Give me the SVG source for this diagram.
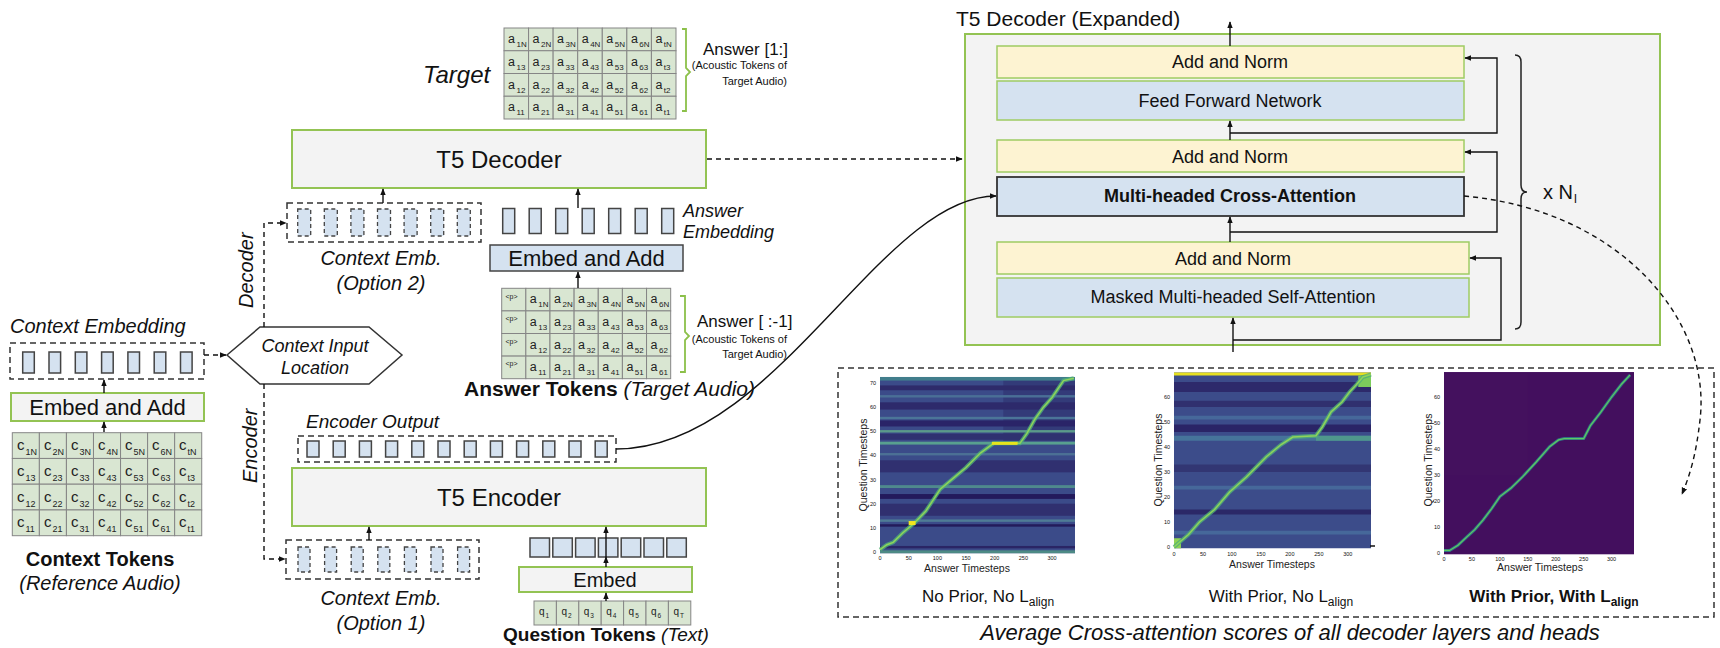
<svg xmlns="http://www.w3.org/2000/svg" width="1720" height="648" viewBox="0 0 1720 648">
<defs>
<marker id="ah" viewBox="0 0 10 10" refX="9" refY="5" markerWidth="7" markerHeight="7" orient="auto" markerUnits="userSpaceOnUse"><path d="M0,1 L10,5 L0,9 z" fill="#111"/></marker>
<style>
text{font-family:"Liberation Sans",Arial,sans-serif;fill:#111}
.it{font-style:italic}
.bd{font-weight:bold}
.gbox{fill:#f3f3f3;stroke:#93c353;stroke-width:2}
.cell{fill:#d9e6d2;stroke:#858585;stroke-width:1}
.dash{fill:none;stroke:#333;stroke-width:1.5;stroke-dasharray:6 4}
.emb{fill:#d5e2f0;stroke:#444;stroke-width:1.5}
.embd{fill:#d5e2f0;stroke:#444;stroke-width:1.3;stroke-dasharray:4 3}
.con{fill:none;stroke:#111;stroke-width:1.4}
.cond{fill:none;stroke:#111;stroke-width:1.4;stroke-dasharray:5 4}
.brk{fill:none;stroke:#8cc04a;stroke-width:1.8}
.yb{fill:#fdf3d2;stroke:#9fcc63;stroke-width:1.5}
.bb{fill:#d5e2f0;stroke:#9fcc63;stroke-width:1.5}
.ct{font-size:12.5px;fill:#222}
.cs{font-size:8px}
.cc{font-size:15px;fill:#222}
.ccs{font-size:9px}
.cp{font-size:7px;fill:#222}
.cq{font-size:10px;fill:#222}
.cqs{font-size:6.5px}
.tk{font-size:5.5px;fill:#444}
.ax{font-size:10.5px;fill:#222}
.dk{font-size:18px}
.sm{font-size:11px}
</style>
</defs>

<!-- Target grid -->
<g id="target">
<text x="423" y="83" class="it" font-size="24">Target</text>
<g>
<rect class="cell" x="504" y="28" width="24.57" height="22.75"/><rect class="cell" x="528.57" y="28" width="24.57" height="22.75"/><rect class="cell" x="553.14" y="28" width="24.57" height="22.75"/><rect class="cell" x="577.71" y="28" width="24.57" height="22.75"/><rect class="cell" x="602.28" y="28" width="24.57" height="22.75"/><rect class="cell" x="626.85" y="28" width="24.57" height="22.75"/><rect class="cell" x="651.42" y="28" width="24.57" height="22.75"/>
<rect class="cell" x="504" y="50.75" width="24.57" height="22.75"/><rect class="cell" x="528.57" y="50.75" width="24.57" height="22.75"/><rect class="cell" x="553.14" y="50.75" width="24.57" height="22.75"/><rect class="cell" x="577.71" y="50.75" width="24.57" height="22.75"/><rect class="cell" x="602.28" y="50.75" width="24.57" height="22.75"/><rect class="cell" x="626.85" y="50.75" width="24.57" height="22.75"/><rect class="cell" x="651.42" y="50.75" width="24.57" height="22.75"/>
<rect class="cell" x="504" y="73.5" width="24.57" height="22.75"/><rect class="cell" x="528.57" y="73.5" width="24.57" height="22.75"/><rect class="cell" x="553.14" y="73.5" width="24.57" height="22.75"/><rect class="cell" x="577.71" y="73.5" width="24.57" height="22.75"/><rect class="cell" x="602.28" y="73.5" width="24.57" height="22.75"/><rect class="cell" x="626.85" y="73.5" width="24.57" height="22.75"/><rect class="cell" x="651.42" y="73.5" width="24.57" height="22.75"/>
<rect class="cell" x="504" y="96.25" width="24.57" height="22.75"/><rect class="cell" x="528.57" y="96.25" width="24.57" height="22.75"/><rect class="cell" x="553.14" y="96.25" width="24.57" height="22.75"/><rect class="cell" x="577.71" y="96.25" width="24.57" height="22.75"/><rect class="cell" x="602.28" y="96.25" width="24.57" height="22.75"/><rect class="cell" x="626.85" y="96.25" width="24.57" height="22.75"/><rect class="cell" x="651.42" y="96.25" width="24.57" height="22.75"/>
</g>
<g>
<text x="508" y="43" class="ct">a<tspan class="cs" dx="1.5" dy="4">1N</tspan></text><text x="532.6" y="43" class="ct">a<tspan class="cs" dx="1.5" dy="4">2N</tspan></text><text x="557.1" y="43" class="ct">a<tspan class="cs" dx="1.5" dy="4">3N</tspan></text><text x="581.7" y="43" class="ct">a<tspan class="cs" dx="1.5" dy="4">4N</tspan></text><text x="606.3" y="43" class="ct">a<tspan class="cs" dx="1.5" dy="4">5N</tspan></text><text x="630.9" y="43" class="ct">a<tspan class="cs" dx="1.5" dy="4">6N</tspan></text><text x="655.4" y="43" class="ct">a<tspan class="cs" dx="1.5" dy="4">tN</tspan></text>
<text x="508" y="65.75" class="ct">a<tspan class="cs" dx="1.5" dy="4">13</tspan></text><text x="532.6" y="65.75" class="ct">a<tspan class="cs" dx="1.5" dy="4">23</tspan></text><text x="557.1" y="65.75" class="ct">a<tspan class="cs" dx="1.5" dy="4">33</tspan></text><text x="581.7" y="65.75" class="ct">a<tspan class="cs" dx="1.5" dy="4">43</tspan></text><text x="606.3" y="65.75" class="ct">a<tspan class="cs" dx="1.5" dy="4">53</tspan></text><text x="630.9" y="65.75" class="ct">a<tspan class="cs" dx="1.5" dy="4">63</tspan></text><text x="655.4" y="65.75" class="ct">a<tspan class="cs" dx="1.5" dy="4">t3</tspan></text>
<text x="508" y="88.5" class="ct">a<tspan class="cs" dx="1.5" dy="4">12</tspan></text><text x="532.6" y="88.5" class="ct">a<tspan class="cs" dx="1.5" dy="4">22</tspan></text><text x="557.1" y="88.5" class="ct">a<tspan class="cs" dx="1.5" dy="4">32</tspan></text><text x="581.7" y="88.5" class="ct">a<tspan class="cs" dx="1.5" dy="4">42</tspan></text><text x="606.3" y="88.5" class="ct">a<tspan class="cs" dx="1.5" dy="4">52</tspan></text><text x="630.9" y="88.5" class="ct">a<tspan class="cs" dx="1.5" dy="4">62</tspan></text><text x="655.4" y="88.5" class="ct">a<tspan class="cs" dx="1.5" dy="4">t2</tspan></text>
<text x="508" y="111.25" class="ct">a<tspan class="cs" dx="1.5" dy="4">11</tspan></text><text x="532.6" y="111.25" class="ct">a<tspan class="cs" dx="1.5" dy="4">21</tspan></text><text x="557.1" y="111.25" class="ct">a<tspan class="cs" dx="1.5" dy="4">31</tspan></text><text x="581.7" y="111.25" class="ct">a<tspan class="cs" dx="1.5" dy="4">41</tspan></text><text x="606.3" y="111.25" class="ct">a<tspan class="cs" dx="1.5" dy="4">51</tspan></text><text x="630.9" y="111.25" class="ct">a<tspan class="cs" dx="1.5" dy="4">61</tspan></text><text x="655.4" y="111.25" class="ct">a<tspan class="cs" dx="1.5" dy="4">t1</tspan></text>
</g>
<path class="brk" d="M682,29 L686,29 L686,68 L690,72 L686,76 L686,111 L682,111"/>
<text x="703" y="55" font-size="17">Answer [1:]</text>
<text x="787" y="69" class="sm" text-anchor="end">(Acoustic Tokens of</text>
<text x="787" y="85" class="sm" text-anchor="end">Target Audio)</text>
</g>

<!-- T5 Decoder -->
<g id="t5decoder">
<rect class="gbox" x="292" y="130" width="414" height="58"/>
<text x="499" y="168" font-size="24" text-anchor="middle">T5 Decoder</text>
</g>

<!-- Context Emb Option 2 -->
<g id="ctxemb2">
<rect class="dash" x="287" y="203" width="194" height="39"/>
<rect class="embd" x="297.7" y="209" width="13" height="27"/><rect class="embd" x="324.3" y="209" width="13" height="27"/><rect class="embd" x="350.9" y="209" width="13" height="27"/><rect class="embd" x="377.5" y="209" width="13" height="27"/><rect class="embd" x="404.1" y="209" width="13" height="27"/><rect class="embd" x="430.7" y="209" width="13" height="27"/><rect class="embd" x="457.3" y="209" width="13" height="27"/>
<text x="381" y="265" class="it" font-size="20" text-anchor="middle">Context Emb.</text>
<text x="381" y="290" class="it" font-size="20" text-anchor="middle">(Option 2)</text>
</g>

<!-- Answer Embedding -->
<g id="answeremb">
<rect class="emb" x="502.7" y="208.5" width="12" height="25"/><rect class="emb" x="529.2" y="208.5" width="12" height="25"/><rect class="emb" x="555.7" y="208.5" width="12" height="25"/><rect class="emb" x="582.2" y="208.5" width="12" height="25"/><rect class="emb" x="608.7" y="208.5" width="12" height="25"/><rect class="emb" x="635.2" y="208.5" width="12" height="25"/><rect class="emb" x="661.7" y="208.5" width="12" height="25"/>
<text x="683" y="217" class="it" font-size="18">Answer</text>
<text x="683" y="238" class="it" font-size="18">Embedding</text>
</g>

<!-- Answer Embed and Add -->
<g id="answerembedadd">
<rect class="emb" x="490" y="245" width="193" height="26"/>
<text x="586.5" y="266" font-size="22" text-anchor="middle">Embed and Add</text>
</g>

<!-- Answer tokens grid -->
<g id="answertokens">
<g>
<rect class="cell" x="501.7" y="288.3" width="24.14" height="22.6"/><rect class="cell" x="525.84" y="288.3" width="24.14" height="22.6"/><rect class="cell" x="549.98" y="288.3" width="24.14" height="22.6"/><rect class="cell" x="574.12" y="288.3" width="24.14" height="22.6"/><rect class="cell" x="598.26" y="288.3" width="24.14" height="22.6"/><rect class="cell" x="622.4" y="288.3" width="24.14" height="22.6"/><rect class="cell" x="646.54" y="288.3" width="24.14" height="22.6"/>
<rect class="cell" x="501.7" y="310.9" width="24.14" height="22.6"/><rect class="cell" x="525.84" y="310.9" width="24.14" height="22.6"/><rect class="cell" x="549.98" y="310.9" width="24.14" height="22.6"/><rect class="cell" x="574.12" y="310.9" width="24.14" height="22.6"/><rect class="cell" x="598.26" y="310.9" width="24.14" height="22.6"/><rect class="cell" x="622.4" y="310.9" width="24.14" height="22.6"/><rect class="cell" x="646.54" y="310.9" width="24.14" height="22.6"/>
<rect class="cell" x="501.7" y="333.5" width="24.14" height="22.6"/><rect class="cell" x="525.84" y="333.5" width="24.14" height="22.6"/><rect class="cell" x="549.98" y="333.5" width="24.14" height="22.6"/><rect class="cell" x="574.12" y="333.5" width="24.14" height="22.6"/><rect class="cell" x="598.26" y="333.5" width="24.14" height="22.6"/><rect class="cell" x="622.4" y="333.5" width="24.14" height="22.6"/><rect class="cell" x="646.54" y="333.5" width="24.14" height="22.6"/>
<rect class="cell" x="501.7" y="356.1" width="24.14" height="22.6"/><rect class="cell" x="525.84" y="356.1" width="24.14" height="22.6"/><rect class="cell" x="549.98" y="356.1" width="24.14" height="22.6"/><rect class="cell" x="574.12" y="356.1" width="24.14" height="22.6"/><rect class="cell" x="598.26" y="356.1" width="24.14" height="22.6"/><rect class="cell" x="622.4" y="356.1" width="24.14" height="22.6"/><rect class="cell" x="646.54" y="356.1" width="24.14" height="22.6"/>
</g>
<g>
<text x="505.5" y="298.5" class="cp">&lt;p&gt;</text><text x="529.8" y="303.3" class="ct">a<tspan class="cs" dx="1.5" dy="4">1N</tspan></text><text x="554" y="303.3" class="ct">a<tspan class="cs" dx="1.5" dy="4">2N</tspan></text><text x="578.1" y="303.3" class="ct">a<tspan class="cs" dx="1.5" dy="4">3N</tspan></text><text x="602.3" y="303.3" class="ct">a<tspan class="cs" dx="1.5" dy="4">4N</tspan></text><text x="626.4" y="303.3" class="ct">a<tspan class="cs" dx="1.5" dy="4">5N</tspan></text><text x="650.5" y="303.3" class="ct">a<tspan class="cs" dx="1.5" dy="4">6N</tspan></text>
<text x="505.5" y="321.1" class="cp">&lt;p&gt;</text><text x="529.8" y="325.9" class="ct">a<tspan class="cs" dx="1.5" dy="4">13</tspan></text><text x="554" y="325.9" class="ct">a<tspan class="cs" dx="1.5" dy="4">23</tspan></text><text x="578.1" y="325.9" class="ct">a<tspan class="cs" dx="1.5" dy="4">33</tspan></text><text x="602.3" y="325.9" class="ct">a<tspan class="cs" dx="1.5" dy="4">43</tspan></text><text x="626.4" y="325.9" class="ct">a<tspan class="cs" dx="1.5" dy="4">53</tspan></text><text x="650.5" y="325.9" class="ct">a<tspan class="cs" dx="1.5" dy="4">63</tspan></text>
<text x="505.5" y="343.7" class="cp">&lt;p&gt;</text><text x="529.8" y="348.5" class="ct">a<tspan class="cs" dx="1.5" dy="4">12</tspan></text><text x="554" y="348.5" class="ct">a<tspan class="cs" dx="1.5" dy="4">22</tspan></text><text x="578.1" y="348.5" class="ct">a<tspan class="cs" dx="1.5" dy="4">32</tspan></text><text x="602.3" y="348.5" class="ct">a<tspan class="cs" dx="1.5" dy="4">42</tspan></text><text x="626.4" y="348.5" class="ct">a<tspan class="cs" dx="1.5" dy="4">52</tspan></text><text x="650.5" y="348.5" class="ct">a<tspan class="cs" dx="1.5" dy="4">62</tspan></text>
<text x="505.5" y="366.3" class="cp">&lt;p&gt;</text><text x="529.8" y="371.1" class="ct">a<tspan class="cs" dx="1.5" dy="4">11</tspan></text><text x="554" y="371.1" class="ct">a<tspan class="cs" dx="1.5" dy="4">21</tspan></text><text x="578.1" y="371.1" class="ct">a<tspan class="cs" dx="1.5" dy="4">31</tspan></text><text x="602.3" y="371.1" class="ct">a<tspan class="cs" dx="1.5" dy="4">41</tspan></text><text x="626.4" y="371.1" class="ct">a<tspan class="cs" dx="1.5" dy="4">51</tspan></text><text x="650.5" y="371.1" class="ct">a<tspan class="cs" dx="1.5" dy="4">61</tspan></text>
</g>
<path class="brk" d="M680,296 L685,296 L685,332 L689,336 L685,340 L685,372 L680,372"/>
<text x="697" y="327" font-size="17">Answer [ :-1]</text>
<text x="787" y="343" class="sm" text-anchor="end">(Acoustic Tokens of</text>
<text x="787" y="358" class="sm" text-anchor="end">Target Audio)</text>
<text x="464" y="396" font-size="21"><tspan class="bd">Answer Tokens</tspan> <tspan class="it">(Target Audio)</tspan></text>
</g>

<!-- Context Input Location -->
<g id="ctxloc">
<path d="M227,355 L260,327 L369,327 L402,355 L369,384 L260,384 Z" fill="#fff" stroke="#333" stroke-width="1.5"/>
<text x="315" y="352" class="it" font-size="18" text-anchor="middle">Context Input</text>
<text x="315" y="374" class="it" font-size="18" text-anchor="middle">Location</text>
</g>
<text transform="translate(253,308) rotate(-90)" class="it" font-size="20">Decoder</text>
<text transform="translate(257,483) rotate(-90)" class="it" font-size="20">Encoder</text>

<!-- Left: context -->
<g id="ctxembedding">
<text x="10" y="333" class="it" font-size="20">Context Embedding</text>
<rect class="dash" x="10" y="343" width="194" height="36"/>
<rect class="emb" x="22.7" y="352" width="11.6" height="21"/><rect class="emb" x="49" y="352" width="11.6" height="21"/><rect class="emb" x="75.3" y="352" width="11.6" height="21"/><rect class="emb" x="101.6" y="352" width="11.6" height="21"/><rect class="emb" x="127.9" y="352" width="11.6" height="21"/><rect class="emb" x="154.2" y="352" width="11.6" height="21"/><rect class="emb" x="180.5" y="352" width="11.6" height="21"/>
</g>
<g id="ctxembedadd">
<rect class="gbox" x="11" y="393" width="193" height="28"/>
<text x="107.5" y="415" font-size="22" text-anchor="middle">Embed and Add</text>
</g>
<g id="ctxtokens">
<g>
<rect class="cell" x="12.3" y="432.7" width="27.06" height="25.75"/><rect class="cell" x="39.36" y="432.7" width="27.06" height="25.75"/><rect class="cell" x="66.42" y="432.7" width="27.06" height="25.75"/><rect class="cell" x="93.48" y="432.7" width="27.06" height="25.75"/><rect class="cell" x="120.54" y="432.7" width="27.06" height="25.75"/><rect class="cell" x="147.6" y="432.7" width="27.06" height="25.75"/><rect class="cell" x="174.66" y="432.7" width="27.06" height="25.75"/>
<rect class="cell" x="12.3" y="458.45" width="27.06" height="25.75"/><rect class="cell" x="39.36" y="458.45" width="27.06" height="25.75"/><rect class="cell" x="66.42" y="458.45" width="27.06" height="25.75"/><rect class="cell" x="93.48" y="458.45" width="27.06" height="25.75"/><rect class="cell" x="120.54" y="458.45" width="27.06" height="25.75"/><rect class="cell" x="147.6" y="458.45" width="27.06" height="25.75"/><rect class="cell" x="174.66" y="458.45" width="27.06" height="25.75"/>
<rect class="cell" x="12.3" y="484.2" width="27.06" height="25.75"/><rect class="cell" x="39.36" y="484.2" width="27.06" height="25.75"/><rect class="cell" x="66.42" y="484.2" width="27.06" height="25.75"/><rect class="cell" x="93.48" y="484.2" width="27.06" height="25.75"/><rect class="cell" x="120.54" y="484.2" width="27.06" height="25.75"/><rect class="cell" x="147.6" y="484.2" width="27.06" height="25.75"/><rect class="cell" x="174.66" y="484.2" width="27.06" height="25.75"/>
<rect class="cell" x="12.3" y="509.95" width="27.06" height="25.75"/><rect class="cell" x="39.36" y="509.95" width="27.06" height="25.75"/><rect class="cell" x="66.42" y="509.95" width="27.06" height="25.75"/><rect class="cell" x="93.48" y="509.95" width="27.06" height="25.75"/><rect class="cell" x="120.54" y="509.95" width="27.06" height="25.75"/><rect class="cell" x="147.6" y="509.95" width="27.06" height="25.75"/><rect class="cell" x="174.66" y="509.95" width="27.06" height="25.75"/>
</g>
<g>
<text x="17" y="450" class="cc">c<tspan class="ccs" dx="1" dy="5">1N</tspan></text><text x="44" y="450" class="cc">c<tspan class="ccs" dx="1" dy="5">2N</tspan></text><text x="71" y="450" class="cc">c<tspan class="ccs" dx="1" dy="5">3N</tspan></text><text x="98" y="450" class="cc">c<tspan class="ccs" dx="1" dy="5">4N</tspan></text><text x="125" y="450" class="cc">c<tspan class="ccs" dx="1" dy="5">5N</tspan></text><text x="152" y="450" class="cc">c<tspan class="ccs" dx="1" dy="5">6N</tspan></text><text x="179" y="450" class="cc">c<tspan class="ccs" dx="1" dy="5">tN</tspan></text>
<text x="17" y="475.7" class="cc">c<tspan class="ccs" dx="1" dy="5">13</tspan></text><text x="44" y="475.7" class="cc">c<tspan class="ccs" dx="1" dy="5">23</tspan></text><text x="71" y="475.7" class="cc">c<tspan class="ccs" dx="1" dy="5">33</tspan></text><text x="98" y="475.7" class="cc">c<tspan class="ccs" dx="1" dy="5">43</tspan></text><text x="125" y="475.7" class="cc">c<tspan class="ccs" dx="1" dy="5">53</tspan></text><text x="152" y="475.7" class="cc">c<tspan class="ccs" dx="1" dy="5">63</tspan></text><text x="179" y="475.7" class="cc">c<tspan class="ccs" dx="1" dy="5">t3</tspan></text>
<text x="17" y="501.5" class="cc">c<tspan class="ccs" dx="1" dy="5">12</tspan></text><text x="44" y="501.5" class="cc">c<tspan class="ccs" dx="1" dy="5">22</tspan></text><text x="71" y="501.5" class="cc">c<tspan class="ccs" dx="1" dy="5">32</tspan></text><text x="98" y="501.5" class="cc">c<tspan class="ccs" dx="1" dy="5">42</tspan></text><text x="125" y="501.5" class="cc">c<tspan class="ccs" dx="1" dy="5">52</tspan></text><text x="152" y="501.5" class="cc">c<tspan class="ccs" dx="1" dy="5">62</tspan></text><text x="179" y="501.5" class="cc">c<tspan class="ccs" dx="1" dy="5">t2</tspan></text>
<text x="17" y="527.2" class="cc">c<tspan class="ccs" dx="1" dy="5">11</tspan></text><text x="44" y="527.2" class="cc">c<tspan class="ccs" dx="1" dy="5">21</tspan></text><text x="71" y="527.2" class="cc">c<tspan class="ccs" dx="1" dy="5">31</tspan></text><text x="98" y="527.2" class="cc">c<tspan class="ccs" dx="1" dy="5">41</tspan></text><text x="125" y="527.2" class="cc">c<tspan class="ccs" dx="1" dy="5">51</tspan></text><text x="152" y="527.2" class="cc">c<tspan class="ccs" dx="1" dy="5">61</tspan></text><text x="179" y="527.2" class="cc">c<tspan class="ccs" dx="1" dy="5">t1</tspan></text>
</g>
<text x="100" y="566" class="bd" font-size="20" text-anchor="middle">Context Tokens</text>
<text x="100" y="590" class="it" font-size="20" text-anchor="middle">(Reference Audio)</text>
</g>

<!-- Encoder Output -->
<g id="encoutput">
<text x="306" y="428" class="it" font-size="19">Encoder Output</text>
<rect class="dash" x="298" y="436" width="318" height="26"/>
<rect class="emb" x="307" y="441" width="12" height="16"/><rect class="emb" x="333.2" y="441" width="12" height="16"/><rect class="emb" x="359.4" y="441" width="12" height="16"/><rect class="emb" x="385.6" y="441" width="12" height="16"/><rect class="emb" x="411.8" y="441" width="12" height="16"/><rect class="emb" x="438" y="441" width="12" height="16"/><rect class="emb" x="464.2" y="441" width="12" height="16"/><rect class="emb" x="490.4" y="441" width="12" height="16"/><rect class="emb" x="516.6" y="441" width="12" height="16"/><rect class="emb" x="542.8" y="441" width="12" height="16"/><rect class="emb" x="569" y="441" width="12" height="16"/><rect class="emb" x="595.2" y="441" width="12" height="16"/>
</g>

<!-- T5 Encoder -->
<g id="t5encoder">
<rect class="gbox" x="292" y="468" width="414" height="58"/>
<text x="499" y="506" font-size="24" text-anchor="middle">T5 Encoder</text>
</g>

<!-- Context Emb Option 1 -->
<g id="ctxemb1">
<rect class="dash" x="286" y="540" width="193" height="39"/>
<rect class="embd" x="298" y="547" width="12" height="25"/><rect class="embd" x="324.6" y="547" width="12" height="25"/><rect class="embd" x="351.2" y="547" width="12" height="25"/><rect class="embd" x="377.8" y="547" width="12" height="25"/><rect class="embd" x="404.4" y="547" width="12" height="25"/><rect class="embd" x="431" y="547" width="12" height="25"/><rect class="embd" x="457.6" y="547" width="12" height="25"/>
<text x="381" y="605" class="it" font-size="20" text-anchor="middle">Context Emb.</text>
<text x="381" y="630" class="it" font-size="20" text-anchor="middle">(Option 1)</text>
</g>

<!-- Question side -->
<g id="qemb">
<rect class="emb" x="530" y="538" width="19.5" height="19"/><rect class="emb" x="552.8" y="538" width="19.5" height="19"/><rect class="emb" x="575.6" y="538" width="19.5" height="19"/><rect class="emb" x="598.4" y="538" width="19.5" height="19"/><rect class="emb" x="621.2" y="538" width="19.5" height="19"/><rect class="emb" x="644" y="538" width="19.5" height="19"/><rect class="emb" x="666.8" y="538" width="19.5" height="19"/>
</g>
<g id="qembed">
<rect class="gbox" x="519" y="567" width="173" height="25"/>
<text x="605" y="587" font-size="20" text-anchor="middle">Embed</text>
</g>
<g id="qtokens">
<rect class="cell" x="534" y="601" width="22.4" height="24"/><rect class="cell" x="556.4" y="601" width="22.4" height="24"/><rect class="cell" x="578.8" y="601" width="22.4" height="24"/><rect class="cell" x="601.2" y="601" width="22.4" height="24"/><rect class="cell" x="623.6" y="601" width="22.4" height="24"/><rect class="cell" x="646" y="601" width="22.4" height="24"/><rect class="cell" x="668.4" y="601" width="22.4" height="24"/>
<text x="539" y="615" class="cq">q<tspan class="cqs" dx="1" dy="3">1</tspan></text><text x="561.4" y="615" class="cq">q<tspan class="cqs" dx="1" dy="3">2</tspan></text><text x="583.8" y="615" class="cq">q<tspan class="cqs" dx="1" dy="3">3</tspan></text><text x="606.2" y="615" class="cq">q<tspan class="cqs" dx="1" dy="3">4</tspan></text><text x="628.6" y="615" class="cq">q<tspan class="cqs" dx="1" dy="3">5</tspan></text><text x="651" y="615" class="cq">q<tspan class="cqs" dx="1" dy="3">6</tspan></text><text x="673.4" y="615" class="cq">q<tspan class="cqs" dx="1" dy="3">T</tspan></text>
<text x="606" y="641" font-size="19" text-anchor="middle"><tspan class="bd">Question Tokens</tspan> <tspan class="it">(Text)</tspan></text>
</g>

<!-- T5 Decoder Expanded -->
<g id="decexp">
<text x="956" y="26" font-size="21">T5 Decoder (Expanded)</text>
<rect class="gbox" x="965" y="34" width="695" height="311"/>
<g id="addnorm3"><rect class="yb" x="997" y="46" width="467" height="32"/><text x="1230" y="68" class="dk" text-anchor="middle">Add and Norm</text></g>
<g id="ffn"><rect class="bb" x="997" y="81" width="467" height="39"/><text x="1230" y="107" class="dk" text-anchor="middle">Feed Forward Network</text></g>
<g id="addnorm2"><rect class="yb" x="997" y="140" width="467" height="32"/><text x="1230" y="163" class="dk" text-anchor="middle">Add and Norm</text></g>
<g id="crossattn"><rect x="997" y="177" width="467" height="39" fill="#d5e2f0" stroke="#333" stroke-width="1.8"/><text x="1230" y="202" class="dk bd" text-anchor="middle">Multi-headed Cross-Attention</text></g>
<g id="addnorm1"><rect class="yb" x="997" y="242" width="472" height="32"/><text x="1233" y="265" class="dk" text-anchor="middle">Add and Norm</text></g>
<g id="selfattn"><rect class="bb" x="997" y="278" width="472" height="39"/><text x="1233" y="303" class="dk" text-anchor="middle">Masked Multi-headed Self-Attention</text></g>
<path d="M1515,55 Q1521,55 1521,62 L1521,185 Q1521,192 1527,192 Q1521,192 1521,199 L1521,322 Q1521,329 1515,329" fill="none" stroke="#222" stroke-width="1.5"/>
<text x="1543" y="199" font-size="20">x N<tspan font-size="13" dx="1" dy="4">l</tspan></text>
</g>

<!-- Heatmaps -->
<g id="heatmaps">
<rect class="dash" x="838" y="368" width="876" height="249"/>
<g id="hm1">
<g transform="translate(880,552) scale(0.5735,-2.414)">
<rect x="0" y="-0.5" width="340" height="73" fill="#3b4b89"/>
<rect x="215" y="46" width="125" height="26" fill="#2a2966" opacity="0.45"/>
<rect x="0" y="71" width="340" height="1.5" fill="#417e8c"/>
<rect x="0" y="67" width="340" height="2" fill="#2e2b6a"/>
<rect x="0" y="64" width="340" height="1" fill="#4a6f96"/>
<rect x="0" y="59" width="340" height="3" fill="#2d2a6b"/>
<rect x="0" y="55" width="340" height="1" fill="#4b7598"/>
<rect x="0" y="52" width="340" height="2.5" fill="#2a2468"/>
<rect x="0" y="49.5" width="340" height="1" fill="#5b9a8a"/>
<rect x="0" y="46.5" width="340" height="2.5" fill="#2f3170"/>
<rect x="0" y="44.5" width="340" height="1.2" fill="#58a08f"/>
<rect x="0" y="40" width="340" height="1" fill="#4c7095"/>
<rect x="0" y="33" width="340" height="5" fill="#303070"/>
<rect x="0" y="26.5" width="340" height="1.2" fill="#4f8a8d"/>
<rect x="0" y="22" width="340" height="2" fill="#231a5c"/>
<rect x="0" y="15" width="340" height="5" fill="#30306f"/>
<rect x="0" y="12.5" width="340" height="1" fill="#4f7c95"/>
<rect x="0" y="10.5" width="340" height="1" fill="#231b5a"/>
<rect x="0" y="1.5" width="340" height="1" fill="#2a2565"/>
<rect x="0" y="-0.5" width="340" height="1.2" fill="#4d8a85"/>
<polyline vector-effect="non-scaling-stroke" points="0,1 12,3 23,4 40,8 60,12 80,17 105,26 130,31 150,35 175,41 198,45 244,45 256,49 270,55 285,60 300,64 320,71 338,72" fill="none" stroke="#4fae79" stroke-width="4" stroke-opacity="0.8"/>
<polyline vector-effect="non-scaling-stroke" points="0,1 12,3 23,4 40,8 60,12 80,17 105,26 130,31 150,35 175,41 198,45 244,45 256,49 270,55 285,60 300,64 320,71 338,72" fill="none" stroke="#8fd45a" stroke-width="1.5"/>
<polyline vector-effect="non-scaling-stroke" points="195,45 240,45" fill="none" stroke="#e8e41c" stroke-width="3"/>
<polyline vector-effect="non-scaling-stroke" points="50,12 62,12" fill="none" stroke="#f4e61e" stroke-width="4"/>
</g>
<g class="tk" text-anchor="end">
<text x="876" y="554">0</text><text x="876" y="530">10</text><text x="876" y="505.7">20</text><text x="876" y="481.6">30</text><text x="876" y="457.4">40</text><text x="876" y="433.3">50</text><text x="876" y="409.2">60</text><text x="876" y="385">70</text>
</g>
<g class="tk" text-anchor="middle">
<text x="880" y="560">0</text><text x="908.7" y="560">50</text><text x="937.4" y="560">100</text><text x="966" y="560">150</text><text x="994.7" y="560">200</text><text x="1023.4" y="560">250</text><text x="1052.1" y="560">300</text>
</g>
<text x="967" y="572" class="ax" text-anchor="middle">Answer Timesteps</text>
<text transform="translate(867,465) rotate(-90)" class="ax" text-anchor="middle">Question Timesteps</text>
<text x="988" y="602" font-size="17" text-anchor="middle">No Prior, No L<tspan font-size="12" dy="4">align</tspan></text>
</g>
<g id="hm2">
<g transform="translate(1174,547) scale(0.5794,-2.5)">
<rect x="0" y="-0.5" width="340" height="70.3" fill="#3c4c8a"/>
<rect x="0" y="62" width="340" height="4" fill="#2d2a6b"/>
<rect x="0" y="56" width="340" height="2.5" fill="#30306f"/>
<rect x="0" y="51" width="340" height="1.5" fill="#46689a"/>
<rect x="0" y="46" width="340" height="3" fill="#2a2466"/>
<rect x="0" y="42.5" width="340" height="2" fill="#46739a"/>
<rect x="245" y="42.5" width="95" height="2" fill="#4f978c"/>
<rect x="0" y="30" width="340" height="3" fill="#323673"/>
<rect x="0" y="23" width="340" height="1.5" fill="#46689a"/>
<rect x="0" y="13" width="340" height="2" fill="#2b2867"/>
<rect x="0" y="5" width="340" height="1.5" fill="#46689a"/>
<rect x="0" y="68.6" width="340" height="1.2" fill="#e6e020"/>
<rect x="318" y="64" width="22" height="4.6" fill="#7ccc5c"/>
<rect x="0" y="-0.5" width="12" height="4" fill="#8fd455"/>
<polyline vector-effect="non-scaling-stroke" points="0,0 10,2 25,5 44,10 70,15 96,22 125,28 159,36 185,41 205,44 245,44.5 256,48 271,54 290,58 303,62 315,65 326,68 340,69" fill="none" stroke="#4fae79" stroke-width="4" stroke-opacity="0.8"/>
<polyline vector-effect="non-scaling-stroke" points="0,0 10,2 25,5 44,10 70,15 96,22 125,28 159,36 185,41 205,44 245,44.5 256,48 271,54 290,58 303,62 315,65 326,68 340,69" fill="none" stroke="#8fd45a" stroke-width="1.5"/>
</g>
<line x1="1370" y1="546" x2="1375" y2="546" stroke="#111" stroke-width="1.5"/>
<g class="tk" text-anchor="end">
<text x="1170" y="549">0</text><text x="1170" y="524">10</text><text x="1170" y="499">20</text><text x="1170" y="474">30</text><text x="1170" y="449">40</text><text x="1170" y="424">50</text><text x="1170" y="399">60</text>
</g>
<g class="tk" text-anchor="middle">
<text x="1174" y="556">0</text><text x="1203" y="556">50</text><text x="1231.9" y="556">100</text><text x="1260.9" y="556">150</text><text x="1289.9" y="556">200</text><text x="1318.9" y="556">250</text><text x="1347.8" y="556">300</text>
</g>
<text x="1272" y="568" class="ax" text-anchor="middle">Answer Timesteps</text>
<text transform="translate(1162,460) rotate(-90)" class="ax" text-anchor="middle">Question Timesteps</text>
<text x="1281" y="602" font-size="17" text-anchor="middle">With Prior, No L<tspan font-size="12" dy="4">align</tspan></text>
</g>
<g id="hm3">
<g transform="translate(1444,553) scale(0.5588,-2.6)">
<rect x="0" y="-0.5" width="340" height="70.1" fill="#430f5e"/>
<rect x="0" y="30" width="150" height="39" fill="#46135f" opacity="0.6"/>
<polyline vector-effect="non-scaling-stroke" points="0,1 10,1 25,3 40,6 55,9 70,12.7 85,17 100,21.7 120,25 141,29.4 165,35 189,40.9 205,43.5 215,44 250,44 262,49 280,54 300,60 318,65 333,68.5" fill="none" stroke="#2a8c8c" stroke-width="3" stroke-opacity="0.8"/>
<polyline vector-effect="non-scaling-stroke" points="0,1 10,1 25,3 40,6 55,9 70,12.7 85,17 100,21.7 120,25 141,29.4 165,35 189,40.9 205,43.5 215,44 250,44 262,49 280,54 300,60 318,65 333,68.5" fill="none" stroke="#5ec962" stroke-width="1.2"/>
</g>
<g class="tk" text-anchor="end">
<text x="1440" y="555">0</text><text x="1440" y="529">10</text><text x="1440" y="503">20</text><text x="1440" y="477">30</text><text x="1440" y="451">40</text><text x="1440" y="425">50</text><text x="1440" y="399">60</text>
</g>
<g class="tk" text-anchor="middle">
<text x="1444" y="561">0</text><text x="1471.9" y="561">50</text><text x="1499.9" y="561">100</text><text x="1527.8" y="561">150</text><text x="1555.8" y="561">200</text><text x="1583.7" y="561">250</text><text x="1611.6" y="561">300</text>
</g>
<text x="1540" y="571" class="ax" text-anchor="middle">Answer Timesteps</text>
<text transform="translate(1432,460) rotate(-90)" class="ax" text-anchor="middle">Question Timesteps</text>
<text x="1554" y="602" font-size="17" class="bd" text-anchor="middle">With Prior, With L<tspan font-size="12" dy="4">align</tspan></text>
</g>
<text x="1290" y="640" class="it" font-size="22" text-anchor="middle">Average Cross-attention scores of all decoder layers and heads</text>
</g>

<!-- Connectors -->
<g id="connectors">
<line class="con" x1="104" y1="432" x2="104" y2="422" marker-end="url(#ah)"/>
<line class="con" x1="104" y1="393" x2="104" y2="380" marker-end="url(#ah)"/>
<line class="cond" x1="204" y1="355" x2="226" y2="355" marker-end="url(#ah)"/>
<polyline class="cond" points="264,327 264,223 286,223" marker-end="url(#ah)"/>
<polyline class="cond" points="264,384 264,559 285,559" marker-end="url(#ah)"/>
<line class="con" x1="383" y1="203" x2="383" y2="189" marker-end="url(#ah)"/>
<line class="con" x1="578" y1="208" x2="578" y2="189" marker-end="url(#ah)"/>
<line class="con" x1="578" y1="288" x2="578" y2="272" marker-end="url(#ah)"/>
<line class="con" x1="369" y1="540" x2="369" y2="527" marker-end="url(#ah)"/>
<line class="con" x1="606" y1="601" x2="606" y2="593" marker-end="url(#ah)"/>
<line class="con" x1="606" y1="567" x2="606" y2="557" marker-end="url(#ah)"/>
<line class="con" x1="606" y1="557" x2="606" y2="527" marker-end="url(#ah)"/>
<line class="cond" x1="707" y1="159" x2="962" y2="159" marker-end="url(#ah)"/>
<path class="con" d="M616,449 C776,449 880,196 996,196" marker-end="url(#ah)"/>
<line class="con" x1="1230" y1="46" x2="1230" y2="22" marker-end="url(#ah)"/>
<line class="con" x1="1230" y1="140" x2="1230" y2="121" marker-end="url(#ah)"/>
<polyline class="con" points="1230,133 1497,133 1497,58 1465,58" marker-end="url(#ah)"/>
<line class="con" x1="1230" y1="242" x2="1230" y2="217" marker-end="url(#ah)"/>
<polyline class="con" points="1230,232 1497,232 1497,152 1465,152" marker-end="url(#ah)"/>
<line class="con" x1="1233" y1="352" x2="1233" y2="318" marker-end="url(#ah)"/>
<polyline class="con" points="1233,340 1501,340 1501,258 1470,258" marker-end="url(#ah)"/>
<path class="cond" d="M1464,196 C1620,210 1712,320 1700,420 C1696,455 1690,475 1682,494" marker-end="url(#ah)"/>
</g>
</svg>
